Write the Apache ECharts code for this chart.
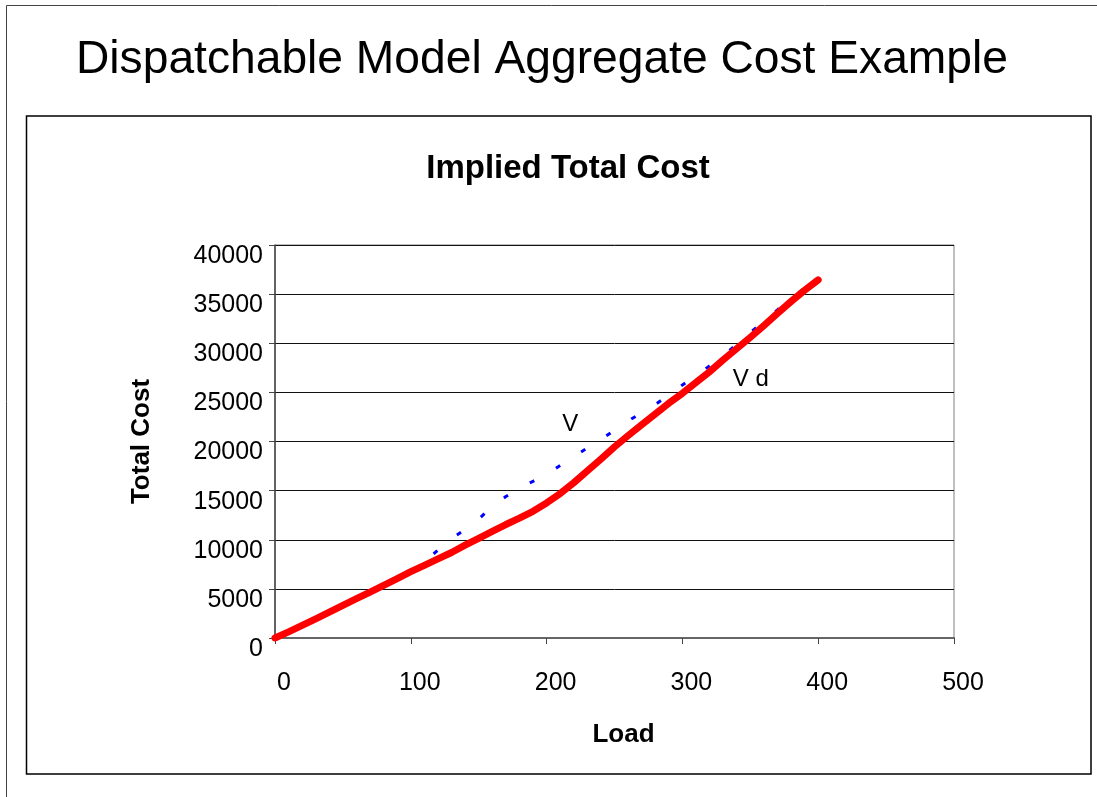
<!DOCTYPE html>
<html>
<head>
<meta charset="utf-8">
<script src="https://cdn.jsdelivr.net/npm/echarts@6/dist/echarts.min.js"></script>
<style>
html,body{margin:0;padding:0;background:#fff;}
#c{width:1097px;height:797px;}
</style>
</head>
<body>
<div id="c"></div>
<script>
// ---- data ----
const loads = [0,10,20,30,40,50,60,70,80,90,100,110,120,130,140,150,160,170,180,190,200,210,220,230,240,250,260,270,280,290,300,310,320,330,340,350,360,370,380,390,400];
const costVd = [0,620,1280,1950,2640,3330,4000,4680,5360,6050,6750,7400,8050,8700,9450,10150,10850,11550,12200,12900,13750,14700,15800,17000,18200,19450,20600,21700,22800,23900,24900,26000,27100,28300,29450,30600,31800,33050,34250,35400,36450];
const costV  = [0,620,1280,1950,2640,3330,4000,4680,5400,6100,6850,7700,8950,10100,11050,12100,13400,14400,15250,15950,16650,17550,18450,19350,20200,21150,22100,22900,23750,24750,25750,26700,27700,28700,29900,31100,32200,33400,34650,35550,36450];
const xTicks = [0,100,200,300,400,500];
const yTicks = [0,5000,10000,15000,20000,25000,30000,35000,40000];
const annotations = [
  {name:'V',   load:217.5, cost:21780},
  {name:'V d', load:350.4, cost:26360}
];

const FONT = '"Liberation Sans", Arial, sans-serif';
const pairs = (ys) => loads.map((x,i)=>[x, ys[i]]);

const chart = echarts.init(document.getElementById('c'), null, {renderer:'canvas'});
chart.setOption({
  animation:false,
  backgroundColor:'#fff',
  textStyle:{fontFamily:FONT},
  title:[
    {text:'Dispatchable Model Aggregate Cost Example', left:71, top:32,
     textStyle:{fontFamily:FONT, fontSize:46.2, fontWeight:'normal', color:'#000'}},
    {text:'Implied Total Cost', left:563, top:147, textAlign:'center',
     textStyle:{fontFamily:FONT, fontSize:33, fontWeight:'bold', color:'#000'}}
  ],
  graphic:[
    {type:'line', shape:{x1:6.5, y1:5.5, x2:1097, y2:5.5}, style:{stroke:'#444', lineWidth:1}, silent:true},
    {type:'line', shape:{x1:6.5, y1:5.5, x2:6.5, y2:797}, style:{stroke:'#444', lineWidth:1}, silent:true},
    {type:'rect', shape:{x:26.5, y:116, width:1064.5, height:658}, style:{fill:'none', stroke:'#000', lineWidth:1.5}, silent:true}
  ],
  grid:{left:275, right:143, top:245, bottom:159, show:true, borderColor:'#808080', borderWidth:1, backgroundColor:'transparent'},
  xAxis:{
    type:'value', min:xTicks[0], max:xTicks[xTicks.length-1], interval:100,
    name:'Load', nameLocation:'middle', nameGap:84,
    nameTextStyle:{fontFamily:FONT, fontSize:26, fontWeight:'bold', color:'#000', padding:[0,0,0,18]},
    axisLine:{show:true, onZero:false, lineStyle:{color:'#666', width:2}},
    axisTick:{show:true, inside:false, length:6, lineStyle:{color:'#444', width:1}},
    axisLabel:{fontFamily:FONT, fontSize:25, color:'#000', margin:33, padding:[0,0,0,18],
      formatter:v=>String(v)},
    splitLine:{show:false}
  },
  yAxis:{
    type:'value', min:yTicks[0], max:yTicks[yTicks.length-1], interval:5000,
    name:'Total Cost', nameLocation:'middle', nameGap:120, nameRotate:90,
    nameTextStyle:{fontFamily:FONT, fontSize:26, fontWeight:'bold', color:'#000'},
    axisLine:{show:true, lineStyle:{color:'#444', width:1.5}},
    axisTick:{show:true, inside:false, length:6, lineStyle:{color:'#444', width:1}},
    axisLabel:{fontFamily:FONT, fontSize:25, color:'#000', margin:12, verticalAlign:'top', lineHeight:22,
      formatter:v=>String(v)},
    splitLine:{show:true, lineStyle:{color:'#111', width:1}}
  },
  series:[
    {name:'V', type:'line', data:pairs(costV), showSymbol:false, symbol:'none', z:2,
     lineStyle:{color:'#0000FF', width:3, type:[5,25]}},
    {name:'V d', type:'line', data:pairs(costVd), showSymbol:false, symbol:'none', z:3,
     lineStyle:{color:'#FF0000', width:7, cap:'round', join:'round'},
     markPoint:{symbol:'circle', symbolSize:0, silent:true,
       label:{show:true, position:'inside', fontFamily:FONT, fontSize:24, color:'#000', formatter:p=>p.name},
       data:annotations.map(a=>({name:a.name, coord:[a.load, a.cost]}))}
    }
  ]
});
</script>
</body>
</html>
